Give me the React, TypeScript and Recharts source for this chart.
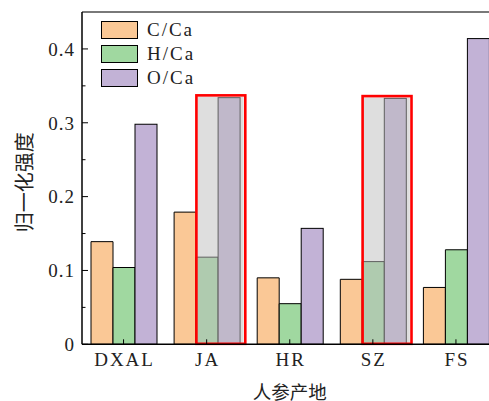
import { BarChart, Bar, XAxis, YAxis, Legend, Label, ReferenceLine } from 'recharts'

const sites = ['DXAL', 'JA', 'HR', 'SZ', 'FS']
const cCa = [0.139, 0.179, 0.09, 0.088, 0.077]
const hCa = [0.104, 0.118, 0.055, 0.112, 0.128]
const oCa = [0.298, 0.334, 0.157, 0.333, 0.414]
const highlighted = ['JA', 'SZ']

const majorTicks = [0, 0.1, 0.2, 0.3, 0.4]
const majorLabels = ['0', '0.1', '0.2', '0.3', '0.4']
const minorTicks = [0.05, 0.15, 0.25, 0.35]

const data = sites.map((site, i) => ({ site, c: cCa[i], h: hCa[i], o: oCa[i] }))

const SERIF = '"Liberation Serif", serif'
const CJK = '"Noto Sans CJK SC", sans-serif'

function YTick({ x, y, payload }: any) {
  const idx = majorTicks.indexOf(payload.value)
  const major = idx >= 0
  return (
    <g>
      <line x1={x} x2={x + (major ? 6 : 3.5)} y1={y} y2={y} stroke="#000" strokeWidth={1} />
      {major && (
        <text
          x={x - 7}
          y={y}
          dy="0.36em"
          textAnchor="end"
          fontFamily={SERIF}
          fontSize={19}
          letterSpacing={1}
          fill="#222"
        >
          {majorLabels[idx]}
        </text>
      )}
    </g>
  )
}

function XTick({ x, y, payload }: any) {
  return (
    <g>
      <line x1={x} x2={x} y1={y} y2={y - 5} stroke="#000" strokeWidth={1} />
      <text
        x={x + 1}
        y={y + 22}
        textAnchor="middle"
        fontFamily={SERIF}
        fontSize={19}
        letterSpacing={2}
        fill="#222"
      >
        {payload.value}
      </text>
    </g>
  )
}

// purple bar; highlighted sites get the grey wash and red frame over H/Ca + O/Ca
function OShape(props: any) {
  const { x, y, width, height, fill, payload } = props
  const bar = <rect x={x} y={y} width={width} height={height} fill={fill} stroke="#000" strokeWidth={1} />
  if (!highlighted.includes(payload.site)) return bar
  const left = x - width
  const right = x + width + 3.5
  const bottom = y + height
  return (
    <g>
      {bar}
      <rect x={left} y={y - 1} width={right - left} height={bottom - y + 1} fill="#bebebe" fillOpacity={0.5} />
      <rect
        x={left + 0.3}
        y={y - 2.3}
        width={right - left + 1.4}
        height={bottom - 0.5 - (y - 2.3)}
        fill="none"
        stroke="#ff0000"
        strokeWidth={2.6}
      />
    </g>
  )
}

function LegendBox({ payload }: any) {
  return (
    <div>
      {(payload || []).map((p: any) => (
        <div key={p.value} style={{ display: 'flex', alignItems: 'center', height: 24 }}>
          <div
            style={{
              width: 35,
              height: 16,
              background: p.color,
              border: '1px solid #000',
              marginRight: 9,
            }}
          />
          <span style={{ fontFamily: SERIF, fontSize: 19, letterSpacing: 2, color: '#222' }}>{p.value}</span>
        </div>
      ))}
    </div>
  )
}

export default function App() {
  return (
    <div style={{ position: 'fixed', left: 0, top: 0, width: 489, height: 401, overflow: 'hidden', background: '#fff' }}>
      <BarChart
        width={510}
        height={401}
        data={data}
        margin={{ top: 12, right: 12.5, bottom: 26.7, left: 0 }}
        barGap={0}
        barSize={22}
      >
        <ReferenceLine y={0.45} stroke="#4d4d4d" strokeWidth={1.5} />
        <XAxis
          dataKey="site"
          height={30}
          tickSize={0}
          tickMargin={0}
          tickLine={false}
          axisLine={{ stroke: '#000', strokeWidth: 1.5 }}
          tick={<XTick />}
          interval={0}
        >
          <Label
            content={({ viewBox }: any) => (
              <text
                x={viewBox.x + viewBox.width / 2}
                y={390.5}
                dominantBaseline="central"
                textAnchor="middle"
                fontFamily={CJK}
                fontSize={18.5}
                fill="#222"
              >
                人参产地
              </text>
            )}
          />
        </XAxis>
        <YAxis
          width={82}
          type="number"
          domain={[0, 0.45]}
          ticks={[...majorTicks, ...minorTicks].sort((a, b) => a - b)}
          interval={0}
          tickSize={0}
          tickMargin={0}
          tickLine={false}
          axisLine={{ stroke: '#000', strokeWidth: 1.5 }}
          tick={<YTick />}
        >
          <Label
            content={({ viewBox }: any) => {
              const cx = viewBox.x + 24
              const cy = viewBox.y + viewBox.height / 2 + 4
              return (
                <text
                  x={cx}
                  y={cy}
                  transform={`rotate(-90 ${cx} ${cy})`}
                  dominantBaseline="central"
                  textAnchor="middle"
                  fontFamily={CJK}
                  fontSize={20}
                  fill="#222"
                >
                  归一化强度
                </text>
              )
            }}
          />
        </YAxis>
        <Legend
          layout="vertical"
          align="center"
          verticalAlign="middle"
          content={<LegendBox />}
          wrapperStyle={{ left: 101, top: 18, width: 'auto' }}
        />
        <Bar dataKey="c" name="C/Ca" fill="#fac896" stroke="#000" strokeWidth={1} isAnimationActive={false} />
        <Bar dataKey="h" name="H/Ca" fill="#a0d8a0" stroke="#000" strokeWidth={1} isAnimationActive={false} />
        <Bar dataKey="o" name="O/Ca" fill="#c2b2d6" isAnimationActive={false} shape={<OShape />} />
      </BarChart>
    </div>
  )
}
